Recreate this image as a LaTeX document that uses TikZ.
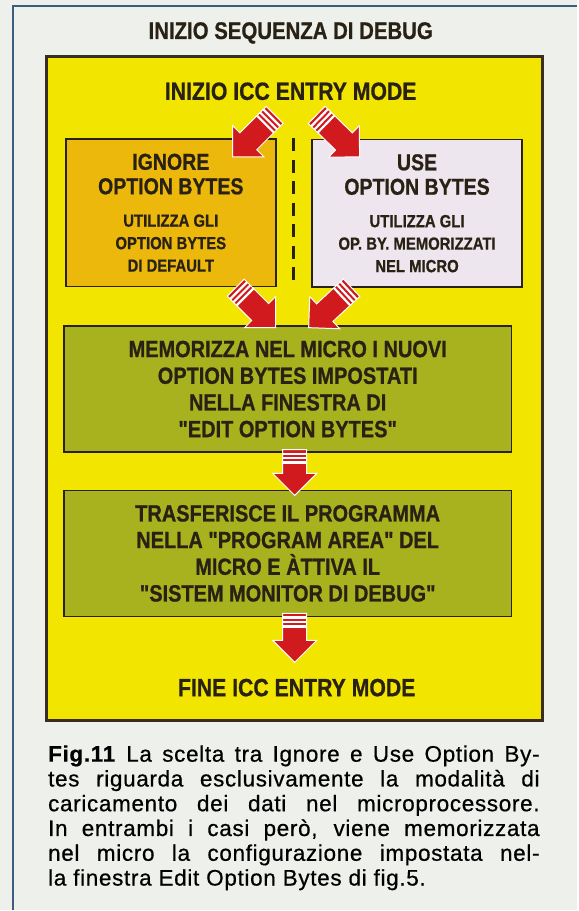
\documentclass[tikz,border=0pt]{standalone}
\usepackage{fontspec}
\setmainfont{Liberation Sans}
\newfontfamily\condfont[FakeStretch=0.85,FakeBold=0.8]{Liberation Sans}
\newfontfamily\capfont[LetterSpace=3,FakeBold=0.6]{Liberation Sans}
\usetikzlibrary{positioning,calc}

\definecolor{bgc}{HTML}{EEF0EC}
\definecolor{framec}{HTML}{3E5C7E}
\definecolor{panelc}{HTML}{3A2C20}
\definecolor{yelc}{HTML}{F2E500}
\definecolor{orangec}{HTML}{ECB80C}
\definecolor{lilac}{HTML}{EEE6EE}
\definecolor{greenc}{HTML}{A8B21E}
\definecolor{redc}{HTML}{D01A1E}
\definecolor{inkc}{HTML}{2A2115}

\tikzset{
  txt/.style={text=inkc, inner sep=0pt},
  optbox/.style={draw=inkc, line width=1.6pt, minimum width=210pt, minimum height=148pt,
    align=center, inner sep=0pt, text=inkc,
    font=\condfont\bfseries\fontsize{17.5}{22.5}\selectfont},
  stepbox/.style={draw=inkc, line width=1.6pt, fill=greenc, minimum width=448pt,
    minimum height=126pt, align=center, text=inkc,
    font=\condfont\bfseries\fontsize{23.5}{26.7}\selectfont},
}
\newcommand\headsz{\fontsize{23}{25}\selectfont}

% striped fat arrow from tail #1 to tip #2
\newcommand\fatarrow[2]{%
  \path let \p1=($(#2)-(#1)$) in \pgfextra{%
    \pgfmathparse{atan2(\y1,\x1)}\xdef\arang{\pgfmathresult}%
    \pgfmathparse{veclen(\x1,\y1)}\xdef\arlen{\pgfmathresult}};
  \begin{scope}[shift={(#2)}, rotate=\arang]
    \fill[redc, draw=white, line width=1pt] (0,0) -- (-22,22) -- (-22,12) -- (-\arlen,12)
      -- (-\arlen,-12) -- (-22,-12) -- (-22,-22) -- cycle;
    \foreach \s in {3,7.5,12}
      \fill[white] ({-\arlen+\s},12) rectangle ++(2.2,-24);
  \end{scope}}

\begin{document}
\begin{tikzpicture}[x=1pt, y=-1pt]

  \fill[bgc] (0,0) rectangle (578,911);
  \draw[framec, line width=2pt] (13,911) -- (13,6.5) -- (578,6.5);

  \node[txt, font=\condfont\bfseries\fontsize{24}{26}\selectfont, anchor=base] (title) at (291,39)
    {INIZIO SEQUENZA DI DEBUG};

  \draw[panelc, fill=yelc, line width=3pt] (46.5,56.5) rectangle (543.5,721.5);

  \node[txt, font=\condfont\bfseries\fontsize{25}{27}\selectfont, anchor=base] (icc) at (291,100)
    {INIZIO ICC ENTRY MODE};

  \node[optbox, fill=orangec] (ignore) at (171,213)
    {{\headsz IGNORE}\\[2pt]{\headsz OPTION BYTES}\\[10pt]UTILIZZA GLI\\OPTION BYTES\\DI DEFAULT};
  \node[optbox, fill=lilac] (use) at (417.5,213.5)
    {{\headsz USE}\\[2pt]{\headsz OPTION BYTES}\\[10pt]UTILIZZA GLI\\OP. BY. MEMORIZZATI\\NEL MICRO};

  \draw[inkc, line width=3pt, dash pattern=on 13pt off 8.5pt]
    ($(ignore.north east)!0.5!(use.north west)$) -- ($(ignore.south east)!0.5!(use.south west)$);

  \node[stepbox] (store) at (288,389.5)
    {MEMORIZZA NEL MICRO I NUOVI\\OPTION BYTES IMPOSTATI\\NELLA FINESTRA DI\\"EDIT OPTION BYTES"};
  \node[stepbox] (load) at (288,554)
    {TRASFERISCE IL PROGRAMMA\\NELLA "PROGRAM AREA" DEL\\MICRO E ÀTTIVA IL\\"SISTEM MONITOR DI DEBUG"};

  \node[txt, font=\condfont\bfseries\fontsize{25}{27}\selectfont, anchor=base] (fine) at (297,697)
    {FINE ICC ENTRY MODE};

  % arrow ends
  \coordinate (t1) at (275,115);  \coordinate (h1) at (233,157);
  \coordinate (t2) at (317,115);  \coordinate (h2) at (360,157);
  \coordinate (t3) at (236,288);  \coordinate (h3) at (276,328);
  \coordinate (t4) at (352,288);  \coordinate (h4) at (309,328);
  \coordinate (t5) at (295,450);  \coordinate (h5) at (295,496);
  \coordinate (t6) at (295,614);  \coordinate (h6) at (295,663);

  \fatarrow{t1}{h1}
  \fatarrow{t2}{h2}
  \fatarrow{t3}{h3}
  \fatarrow{t4}{h4}
  \fatarrow{t5}{h5}
  \fatarrow{t6}{h6}

  \node[anchor=north west, text width=492pt, align=justify, inner sep=0pt, text=black,
    font=\capfont\fontsize{22.5}{24.8}\selectfont] (caption) at (48,746)
    {\textbf{Fig.11} La scelta tra Ignore e Use Option By-\linebreak
     tes riguarda esclusivamente la modalità di\linebreak
     caricamento dei dati nel microprocessore.\linebreak
     In entrambi i casi però, viene memorizzata\linebreak
     nel micro la configurazione impostata nel-\linebreak
     la finestra Edit Option Bytes di fig.5.};

\end{tikzpicture}
\end{document}
